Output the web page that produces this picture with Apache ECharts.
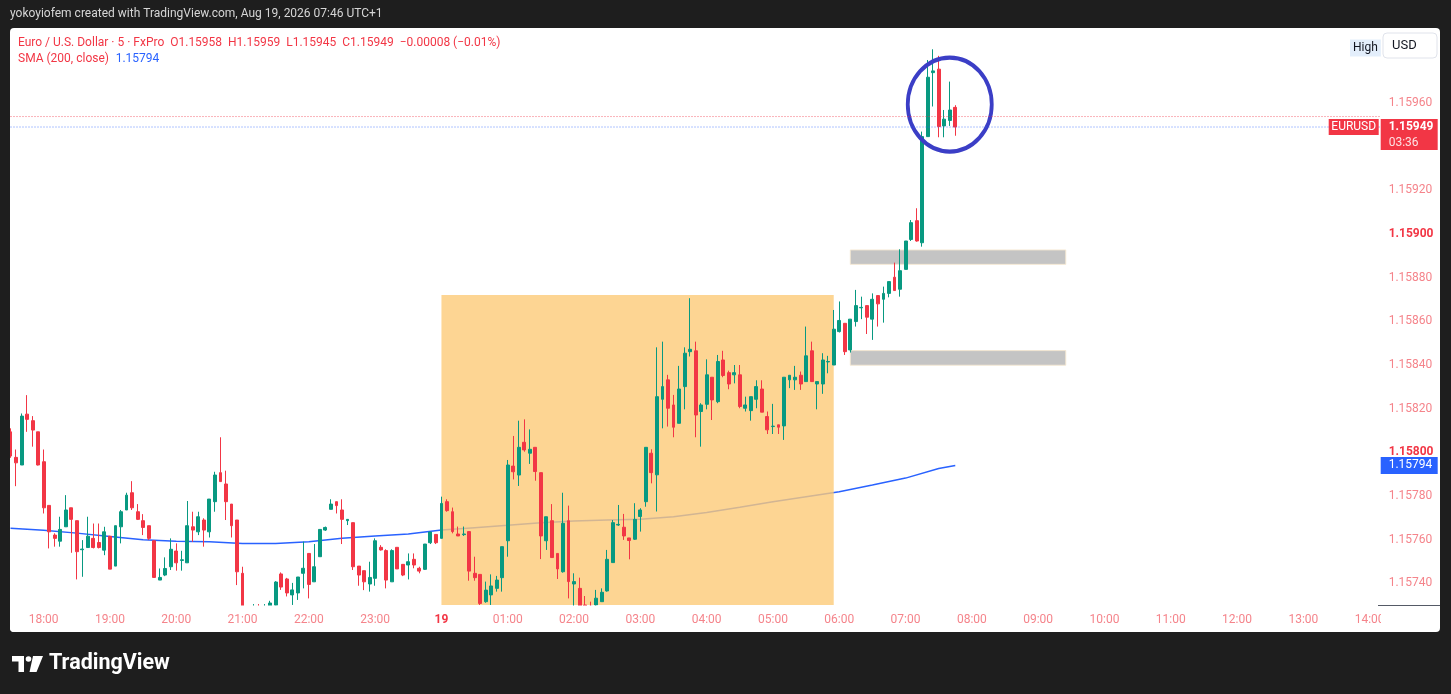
<!DOCTYPE html>
<html>
<head>
<meta charset="utf-8">
<script src="https://cdn.jsdelivr.net/npm/echarts@6/dist/echarts.min.js"></script>
<style>
html,body{margin:0;padding:0;background:#1e1e1e;width:1451px;height:694px;overflow:hidden;}
#panel{position:absolute;left:10px;top:28px;width:1430px;height:604px;background:#ffffff;border-radius:4px;}
#c{position:absolute;left:0;top:0;width:1451px;height:694px;}
</style>
</head>
<body>
<div id="panel"></div>
<div id="c"></div>
<script>
// ---- DATA (EURUSD, 5-minute candles, 17:30 -> 07:45) ----
const opens = [
1.158094,1.157977,1.157942,1.158175,1.158145,1.158094,1.157957,1.157757,1.157621,1.157593,
1.157659,1.157746,1.157687,1.157554,1.157564,1.157606,1.157587,1.157552,1.157616,1.157479,
1.157659,1.157736,1.157815,1.157728,1.157687,1.157664,1.157595,1.157415,1.157438,1.157476,
1.157548,1.157505,1.157494,1.157659,1.157636,1.157690,1.157636,1.157774,1.157907,1.157855,
1.157763,1.157690,1.157446,1.157280,1.157220,1.157260,1.157210,1.157296,1.157300,1.157443,
1.157420,1.157347,1.157356,1.157446,1.157537,1.157407,1.157522,1.157644,1.157739,1.157774,
1.157736,1.157687,1.157678,1.157479,1.157458,1.157397,1.157423,1.157565,1.157550,1.157407,
1.157565,1.157487,1.157484,1.157510,1.157469,1.157464,1.157586,1.157624,1.157606,1.157774,
1.157728,1.157626,1.157623,1.157637,1.157446,1.157441,1.157316,1.157347,1.157377,1.157426,
1.157595,1.157937,1.157896,1.158046,1.157996,1.158023,1.157907,1.157595,1.157687,1.157537,
1.157453,1.157687,1.157397,1.157377,1.157301,1.157295,1.157301,1.157316,1.157365,1.157495,
1.157667,1.157657,1.157608,1.157602,1.157706,1.157774,1.157996,1.157897,1.158243,1.158332,
1.158217,1.158133,1.158301,1.158461,1.158465,1.158187,1.158220,1.158344,1.158232,1.158423,
1.158365,1.158355,1.158355,1.158202,1.158191,1.158243,1.158290,1.158164,1.158118,1.158126,
1.158121,1.158332,1.158332,1.158353,1.158324,1.158465,1.158313,1.158313,1.158414,1.158400,
1.158553,1.158591,1.158469,1.158599,1.158662,1.158672,1.158610,1.158718,1.158701,1.158728,
1.158802,1.158747,1.158838,1.158975,1.159061,1.158960,1.159446,1.159739,1.159755,1.159495,
1.159520,1.15958];
const closes = [
1.157983,1.157952,1.158166,1.158151,1.158102,1.157942,1.157746,1.157636,1.157606,1.157647,
1.157736,1.157693,1.157545,1.157557,1.157616,1.157564,1.157564,1.157636,1.157465,1.157664,
1.157728,1.157804,1.157746,1.157693,1.157656,1.157606,1.157427,1.157427,1.157468,1.157556,
1.157494,1.157508,1.157664,1.157644,1.157705,1.157644,1.157786,1.157896,1.157866,1.157774,
1.157664,1.157453,1.157280,1.157200,1.157250,1.157210,1.157270,1.157310,1.157406,1.157383,
1.157356,1.157370,1.157429,1.157469,1.157395,1.157476,1.157647,1.157656,1.157763,1.157756,
1.157693,1.157693,1.157476,1.157438,1.157407,1.157427,1.157595,1.157553,1.157415,1.157550,
1.157466,1.157438,1.157499,1.157484,1.157456,1.157580,1.157635,1.157586,1.157766,1.157733,
1.157637,1.157617,1.157626,1.157456,1.157426,1.157308,1.157369,1.157388,1.157415,1.157568,
1.157942,1.157911,1.158023,1.158011,1.158014,1.157912,1.157617,1.157705,1.157518,1.157466,
1.157675,1.157408,1.157408,1.157290,1.157290,1.157285,1.157332,1.157359,1.157510,1.157678,
1.157670,1.157617,1.157596,1.157693,1.157736,1.158023,1.157907,1.158255,1.158301,1.158202,
1.158115,1.158290,1.158454,1.158472,1.158171,1.158217,1.158355,1.158240,1.158416,1.158352,
1.158313,1.158365,1.158210,1.158217,1.158255,1.158301,1.158184,1.158103,1.158120,1.158115,
1.158344,1.158353,1.158344,1.158313,1.158442,1.158324,1.158324,1.158423,1.158416,1.158564,
1.158604,1.158461,1.158610,1.158672,1.158664,1.158619,1.158701,1.158680,1.158728,1.158782,
1.158741,1.158832,1.158968,1.159052,1.158968,1.159446,1.159718,1.159747,1.159492,1.159526,
1.159568,1.15949];
const lows = [
1.157975,1.157845,1.157942,1.158094,1.158026,1.157940,1.157720,1.157560,1.157568,1.157568,
1.157659,1.157540,1.157418,1.157430,1.157564,1.157560,1.157560,1.157529,1.157465,1.157479,
1.157583,1.157736,1.157736,1.157690,1.157621,1.157598,1.157427,1.157415,1.157433,1.157461,
1.157458,1.157458,1.157494,1.157590,1.157621,1.157568,1.157610,1.157728,1.157866,1.157690,
1.157610,1.157392,1.157250,1.157160,1.157150,1.157180,1.157170,1.157280,1.157290,1.157370,
1.157340,1.157301,1.157324,1.157377,1.157331,1.157407,1.157522,1.157640,1.157739,1.157720,
1.157580,1.157667,1.157461,1.157389,1.157369,1.157362,1.157389,1.157550,1.157377,1.157407,
1.157466,1.157433,1.157418,1.157469,1.157446,1.157461,1.157580,1.157580,1.157606,1.157728,
1.157629,1.157617,1.157617,1.157412,1.157412,1.157301,1.157311,1.157301,1.157362,1.157362,
1.157522,1.157876,1.157846,1.158003,1.157947,1.157870,1.157511,1.157553,1.157518,1.157420,
1.157449,1.157331,1.157290,1.157280,1.157280,1.157270,1.157290,1.157316,1.157362,1.157495,
1.157663,1.157599,1.157510,1.157599,1.157637,1.157751,1.157858,1.157729,1.158110,1.158118,
1.158069,1.158133,1.158197,1.158439,1.158069,1.158026,1.158197,1.158148,1.158225,1.158344,
1.158289,1.158316,1.158202,1.158187,1.158145,1.158202,1.158184,1.158084,1.158084,1.158084,
1.158057,1.158294,1.158286,1.158286,1.158324,1.158324,1.158197,1.158268,1.158362,1.158400,
1.158549,1.158446,1.158457,1.158576,1.158610,1.158542,1.158515,1.158576,1.158594,1.158710,
1.158741,1.158713,1.158838,1.158968,1.158965,1.158942,1.159446,1.159584,1.159443,1.159443,
1.159495,1.15945];
const highs = [
1.158110,1.158013,1.158178,1.158262,1.158166,1.158094,1.158013,1.157757,1.157629,1.157705,
1.157804,1.157746,1.157687,1.157598,1.157705,1.157674,1.157674,1.157659,1.157616,1.157664,
1.157736,1.157815,1.157868,1.157763,1.157717,1.157664,1.157595,1.157468,1.157519,1.157606,
1.157583,1.157549,1.157777,1.157728,1.157728,1.157698,1.157786,1.157911,1.158069,1.157916,
1.157763,1.157690,1.157476,1.157290,1.157305,1.157305,1.157305,1.157320,1.157410,1.157450,
1.157425,1.157402,1.157429,1.157591,1.157537,1.157580,1.157647,1.157660,1.157785,1.157774,
1.157785,1.157693,1.157678,1.157479,1.157458,1.157499,1.157606,1.157575,1.157556,1.157556,
1.157565,1.157487,1.157537,1.157537,1.157476,1.157580,1.157635,1.157624,1.157797,1.157785,
1.157747,1.157660,1.157660,1.157637,1.157522,1.157441,1.157408,1.157441,1.157434,1.157568,
1.157965,1.158075,1.158145,1.158151,1.158105,1.158023,1.157907,1.157705,1.157763,1.157537,
1.157815,1.157756,1.157446,1.157426,1.157342,1.157316,1.157370,1.157377,1.157553,1.157690,
1.157759,1.157718,1.157608,1.157767,1.157744,1.158023,1.158014,1.158481,1.158507,1.158355,
1.158263,1.158396,1.158481,1.158706,1.158507,1.158225,1.158426,1.158344,1.158446,1.158465,
1.158374,1.158400,1.158400,1.158255,1.158255,1.158330,1.158330,1.158187,1.158222,1.158126,
1.158344,1.158353,1.158396,1.158370,1.158576,1.158507,1.158324,1.158454,1.158442,1.158652,
1.158691,1.158591,1.158610,1.158744,1.158713,1.158672,1.158728,1.158718,1.158759,1.158782,
1.158869,1.158930,1.158968,1.159064,1.159118,1.159469,1.159797,1.159846,1.159816,1.159568,
1.159698,1.15959];

// SMA(200, close) every half hour
const smaTimes = ['17:30','18:00','18:30','19:00','19:30','20:00','20:30','21:00','21:30','22:00',
  '22:30','23:00','23:30','00:00','00:30','01:00','01:30','02:00','02:30','03:00','03:30','04:00',
  '04:30','05:00','05:30','06:00','06:30','07:00','07:30','07:45'];
const smaValues = [1.157652,1.157643,1.157630,1.157614,1.157600,1.157593,1.157590,1.157583,1.157583,1.157590,
  1.157606,1.157617,1.157626,1.157644,1.157655,1.157666,1.157678,1.157686,1.157690,1.157693,1.157705,1.157724,
  1.157748,1.157774,1.157797,1.157820,1.157850,1.157882,1.157926,1.15794];

// drawn zones: session box + two grey zones
const zoneStarts = ['00:00','06:10','06:10'];
const zoneEnds   = ['05:55','09:25','09:25'];
const zoneLows   = [1.15720, 1.158861, 1.158399];
const zoneHighs  = [1.158721, 1.158927, 1.158466];
const zoneColors = ['rgba(252,202,120,0.8)','#C4C4C4','#C4C4C4'];

// circle annotation (time, price) and price lines
const circleTime = '07:40';
const circlePrice = 1.159593;
const askPrice = 1.159538;
const countdown = '03:36';

// axis range / categories
const priceMin = 1.1573008, priceMax = 1.1599435;
const times = [];
for (let k = 0; k < 249; k++) {
  const m = (17 * 60 + 30 + 5 * k) % 1440;
  times.push(String(Math.floor(m / 60)).padStart(2, '0') + ':' + String(m % 60).padStart(2, '0'));
}

// ---- BUILD ----
const FONT = 'Roboto, "Liberation Sans", Arial, sans-serif';
const RED = '#F23645', GREEN = '#089981', BLUE = '#2962FF', PINK = '#F5848B';
const candleData = opens.map((o, i) => [o, closes[i], lows[i], highs[i]]);
const smaData = smaTimes.map((t, k) => [t, smaValues[k]]);
const zoneData = zoneStarts.map((s, k) => [times.indexOf(s), times.indexOf(zoneEnds[k]), zoneLows[k], zoneHighs[k], k]);
const lastIdx = closes.length - 1;
const lastClose = closes[lastIdx];
const lastSma = smaValues[smaValues.length - 1];
const tagData = [[lastIdx, askPrice, 0], [lastIdx, lastClose, 1], [lastIdx, lastSma, 2]];

function renderTag(params, api) {
  const cs = params.coordSys;
  const y = api.coord([api.value(0), api.value(1)])[1];
  const k = api.value(2);
  const right = cs.x + cs.width;
  if (k === 0) {
    return {type: 'line', shape: {x1: cs.x, y1: y, x2: right, y2: y},
      style: {stroke: RED, lineDash: [1, 2], lineWidth: 1, opacity: 0.75}};
  }
  if (k === 1) {
    return {type: 'group', children: [
      {type: 'line', shape: {x1: cs.x, y1: y, x2: right, y2: y}, style: {stroke: BLUE, lineDash: [1, 2], lineWidth: 1, opacity: 0.75}},
      {type: 'rect', shape: {x: right, y: y - 8, width: 57, height: 31}, style: {fill: RED}},
      {type: 'text', x: right + 8, y: y, style: {text: api.value(1).toFixed(5), fill: '#fff', font: 'bold 12px ' + FONT, verticalAlign: 'middle'}},
      {type: 'text', x: right + 8, y: y + 15.5, style: {text: countdown, fill: 'rgba(255,255,255,0.85)', font: '12px ' + FONT, verticalAlign: 'middle'}},
      {type: 'rect', shape: {x: right - 52, y: y - 8, width: 50, height: 16}, style: {fill: RED}},
      {type: 'text', x: right - 27, y: y, style: {text: 'EURUSD', fill: '#fff', font: '12px ' + FONT, verticalAlign: 'middle', align: 'center'}}
    ]};
  }
  return {type: 'group', children: [
    {type: 'rect', shape: {x: right, y: y - 8.5, width: 57, height: 17}, style: {fill: BLUE}},
    {type: 'text', x: right + 8, y: y, style: {text: api.value(1).toFixed(5), fill: '#fff', font: '12px ' + FONT, verticalAlign: 'middle'}}
  ]};
}

const chart = echarts.init(document.getElementById('c'), null, {renderer: 'canvas'});
chart.setOption({
  backgroundColor: 'transparent',
  animation: false,
  textStyle: {fontFamily: FONT},
  grid: {left: 10.5, right: 70.3, top: 28, bottom: 89, outerBoundsMode: 'none', containLabel: false},
  xAxis: {
    type: 'category', data: times, boundaryGap: false, z: 10,
    axisLine: {show: false}, axisTick: {show: false}, splitLine: {show: false},
    axisLabel: {
      margin: 9, fontSize: 12, fontFamily: FONT,
      interval: (idx, val) => val.endsWith(':00'),
      formatter: v => v === '00:00' ? '{b|19}' : '{n|' + v + '}',
      rich: {n: {color: PINK, fontSize: 12, fontFamily: FONT}, b: {color: RED, fontSize: 12, fontWeight: 'bold', fontFamily: FONT}}
    }
  },
  yAxis: {
    type: 'value', position: 'right', min: priceMin, max: priceMax, splitNumber: 13,
    axisLine: {show: false}, axisTick: {show: false}, splitLine: {show: false},
    axisLabel: {
      margin: 8, fontSize: 12, fontFamily: FONT, showMinLabel: false, showMaxLabel: false,
      formatter: v => {
        if (v > 1.15975 || v < 1.15735) return '';
        const s = v.toFixed(5);
        const bold = Math.abs(Math.round(v * 1000) - v * 1000) < 1e-6;
        return bold ? '{b|' + s + '}' : '{n|' + s + '}';
      },
      rich: {n: {color: PINK, fontSize: 12, fontFamily: FONT}, b: {color: RED, fontSize: 12, fontWeight: 'bold', fontFamily: FONT}}
    }
  },
  series: [
    {
      type: 'line', name: 'SMA', data: smaData, z: 1, symbol: 'none', showSymbol: false,
      lineStyle: {color: BLUE, width: 1.5}, silent: true
    },
    {
      type: 'custom', name: 'zones', z: 2, silent: true, data: zoneData,
      encode: {x: [0, 1], y: [2, 3]},
      renderItem: (params, api) => {
        const p0 = api.coord([api.value(0), api.value(3)]);
        const p1 = api.coord([api.value(1), api.value(2)]);
        const cs = params.coordSys;
        const r = echarts.graphic.clipRectByRect(
          {x: p0[0], y: p0[1], width: p1[0] - p0[0], height: p1[1] - p0[1]},
          {x: cs.x, y: cs.y, width: cs.width, height: cs.height});
        if (!r) return null;
        const k = api.value(4);
        return {type: 'rect', shape: r, style: {fill: zoneColors[k], stroke: k === 0 ? null : 'rgba(245,232,210,0.9)', lineWidth: 1}};
      }
    },
    {
      type: 'candlestick', name: 'EURUSD', data: candleData, z: 3, barWidth: 3.4, silent: true, clip: true,
      itemStyle: {color: GREEN, color0: RED, borderColor: GREEN, borderColor0: RED, borderWidth: 1},
      markPoint: {
        silent: true, animation: false, symbol: 'circle', symbolSize: [84, 94],
        itemStyle: {color: 'rgba(0,0,0,0)', borderColor: '#3B3EC6', borderWidth: 4},
        label: {show: false},
        data: [{coord: [circleTime, circlePrice]}]
      }
    },
    {
      type: 'custom', name: 'priceTags', z: 12, silent: true, clip: false, data: tagData,
      encode: {x: 0, y: 1}, renderItem: renderTag
    }
  ],
  graphic: [
    // pane edges: keep candles inside the price pane
    {type: 'rect', z: 4, silent: true, shape: {x: 10, y: 605.5, width: 1371, height: 26.5, r: [0, 0, 0, 4]}, style: {fill: '#ffffff'}},
    {type: 'rect', z: 4, silent: true, shape: {x: 10, y: 632, width: 1371, height: 20}, style: {fill: '#1e1e1e'}},
    {type: 'rect', z: 4, silent: true, shape: {x: 0, y: 28, width: 10, height: 604}, style: {fill: '#1e1e1e'}},
    {type: 'text', x: 10, y: 14, z: 100, silent: true,
      style: {text: 'yokoyiofem created with TradingView.com, Aug 19, 2026 07:46 UTC+1', fill: '#d6d6d6', font: '12px ' + FONT, verticalAlign: 'middle'}},
    {type: 'text', x: 18, y: 43, z: 100, silent: true,
      style: {text: 'Euro / U.S. Dollar · 5 · FxPro  O1.15958  H1.15959  L1.15945  C1.15949  −0.00008 (−0.01%)', fill: RED, font: '12px ' + FONT, verticalAlign: 'middle'}},
    {type: 'text', x: 18, y: 59, z: 100, silent: true,
      style: {text: '{r|SMA (200, close)}  {b|' + lastSma.toFixed(5) + '}', verticalAlign: 'middle',
        rich: {r: {fill: RED, fontSize: 12, fontFamily: FONT}, b: {fill: BLUE, fontSize: 12, fontFamily: FONT}}}},
    {type: 'text', x: 1350, y: 48, z: 100, silent: true,
      style: {text: 'High', fill: '#131722', font: '12px ' + FONT, verticalAlign: 'middle', backgroundColor: '#E3EEFB', padding: [3, 3, 2, 3]}},
    {type: 'rect', z: 100, silent: true, shape: {x: 1383, y: 33, width: 54, height: 25, r: 4},
      style: {fill: '#ffffff', stroke: '#e0e3eb', lineWidth: 1}},
    {type: 'text', x: 1392, y: 45.5, z: 101, silent: true,
      style: {text: 'USD', fill: '#131722', font: '13px ' + FONT, verticalAlign: 'middle'}},
    {type: 'rect', z: 100, silent: true, shape: {x: 1381, y: 607, width: 58, height: 24}, style: {fill: '#ffffff'}},
    {type: 'line', z: 101, silent: true, shape: {x1: 1378, y1: 605.5, x2: 1440, y2: 605.5}, style: {stroke: '#555a66', lineWidth: 1}},
    // TradingView logo
    {type: 'polygon', z: 100, silent: true, shape: {points: [[12, 656], [24, 656], [24, 672], [18.5, 672], [18.5, 661.5], [12, 661.5]]}, style: {fill: '#ffffff'}},
    {type: 'circle', z: 100, silent: true, shape: {cx: 28.5, cy: 659, r: 2.8}, style: {fill: '#ffffff'}},
    {type: 'polygon', z: 100, silent: true, shape: {points: [[33, 656], [43, 656], [36.5, 672], [29.5, 672]]}, style: {fill: '#ffffff'}},
    {type: 'text', x: 49, y: 664, z: 100, silent: true,
      style: {text: 'TradingView', fill: '#ffffff', font: 'bold 21.5px ' + FONT, verticalAlign: 'middle'}}
  ]
});
</script>
</body>
</html>
